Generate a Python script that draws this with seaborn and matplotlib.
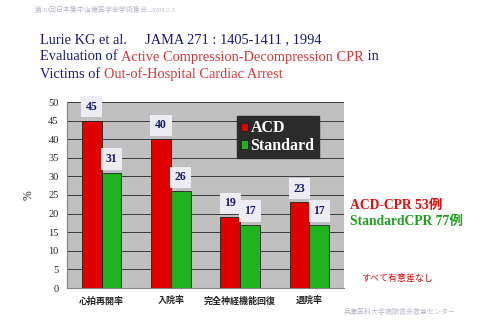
import matplotlib
matplotlib.use("Agg")
import matplotlib.pyplot as plt
import seaborn as sns
import pandas as pd

categories = ['心拍再開率', '入院率', '完全神経機能回復', '退院率']
acd = [45, 40, 19, 23]
standard = [31, 26, 17, 17]
series_names = ['ACD', 'Standard']
yticks = list(range(0, 55, 5))

df = pd.DataFrame({
    'cat': categories * 2,
    'val': acd + standard,
    'grp': [series_names[0]] * len(categories) + [series_names[1]] * len(categories),
})

sns.set_style("white")
plt.rcParams['font.family'] = ['Liberation Serif', 'Noto Sans CJK JP']

fig = plt.figure(figsize=(4.86, 3.24), dpi=100)
fig.patch.set_facecolor('white')
ax = fig.add_axes([67/486, 1 - 288/324, (344 - 67)/486, (288 - 102)/324])
ax.set_facecolor('#c0c0c0')

red = '#e00000'
green = '#1fb41f'
sns.barplot(data=df, x='cat', y='val', hue='grp', palette=[red, green],
            saturation=1, width=0.57, gap=0, edgecolor='#202020', linewidth=0.6,
            ax=ax, zorder=3, legend=True)

ax.set_ylim(0, 50)
ax.set_yticks(yticks)
ax.set_yticklabels([str(t) for t in yticks], fontsize=7.5, family='Liberation Serif')
ax.yaxis.grid(True, color='#3a3a3a', linewidth=0.7, zorder=0)
ax.set_axisbelow(True)
ax.tick_params(axis='both', length=0, pad=6)
ax.set_xticks(range(len(categories)))
ax.set_xticklabels(categories, fontsize=6.5, fontweight='bold', family='Noto Sans CJK JP')
ax.set_xlabel('')
ax.set_ylabel('%', fontsize=8.5, labelpad=10, family='Liberation Serif')
for s in ['top', 'right']:
    ax.spines[s].set_visible(False)
for s in ['left', 'bottom']:
    ax.spines[s].set_color('#808080')
    ax.spines[s].set_linewidth(0.8)

# value labels
for cont in ax.containers:
    for bar in cont:
        h = bar.get_height()
        ax.annotate(f'{int(h)}', (bar.get_x() + bar.get_width()/2, h),
                    xytext=(0, 10), textcoords='offset points',
                    ha='center', va='center', fontsize=8.5, fontweight='bold',
                    color='#1a1a70', family='Liberation Serif', zorder=5,
                    bbox=dict(boxstyle='square,pad=0.4', fc='#ececf2', ec='none'))

# legend
handles, labels = ax.get_legend_handles_labels()
ax.legend(handles, labels, loc='upper left', bbox_to_anchor=(0.585, 0.965),
          frameon=True, facecolor='#2b2b2b', edgecolor='#2b2b2b', framealpha=1,
          fancybox=False, labelcolor='white', handlelength=0.45, handleheight=0.45,
          handletextpad=0.15, borderpad=0.25, labelspacing=0.1,
          prop={'family': 'Liberation Serif', 'weight': 'bold', 'size': 11.5})

# title lines with mixed colors
navy = '#1c1c78'
tred = '#d03a3a'
lines = [
    [("Lurie KG et al.     JAMA 271 : 1405-1411 , 1994", navy)],
    [("Evaluation of ", navy), ("Active Compression-Decompression CPR", tred), (" in", navy)],
    [("Victims of ", navy), ("Out-of-Hospital Cardiac Arrest", tred)],
]
fig.canvas.draw()
renderer = fig.canvas.get_renderer()
ys = [40, 57, 74]
for line, ypx in zip(lines, ys):
    xpx = 40
    for txt, col in line:
        t = fig.text(xpx/486, 1 - ypx/324, txt, color=col, fontsize=10.4,
                     family='Liberation Serif', va='center', ha='left')
        bb = t.get_window_extent(renderer=renderer)
        xpx += bb.width

# header & footer
fig.text(35/486, 1 - 9/324, '第30回日本集中治療医学会学術集会  2003.2.5', fontsize=5,
         color='#b8b8c8', family=['Liberation Serif', 'Noto Sans CJK JP'], va='center', ha='left',
         style='italic')
fig.text(344/486, 1 - 312/324, '兵庫医科大学病院救命救急センター', fontsize=5,
         color='#b8b8c8', family='Noto Sans CJK JP', va='center', ha='left')

# side notes
fig.text(350/486, 1 - 205/324, 'ACD-CPR 53例', fontsize=9.8, fontweight='bold',
         color='#e01010', family=['Liberation Serif', 'Noto Sans CJK JP'], va='center', ha='left')
fig.text(350/486, 1 - 222/324, 'StandardCPR 77例', fontsize=9.8, fontweight='bold',
         color='#20a020', family=['Liberation Serif', 'Noto Sans CJK JP'], va='center', ha='left')
fig.text(361/486, 1 - 278/324, 'すべて有意差なし', fontsize=6.5,
         color='#d01010', family='Noto Sans CJK JP', va='center', ha='left')

fig.savefig('out.png', dpi=100, facecolor='white')
